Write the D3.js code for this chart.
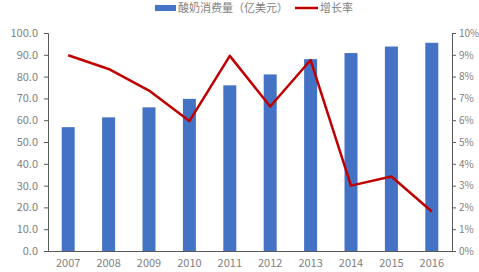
<!DOCTYPE html>
<html>
<head>
<meta charset="utf-8">
<script src="https://cdn.jsdelivr.net/npm/d3@7"></script>
<style>
  body { margin: 0; background: #fff; }
  text { font-family: "Liberation Sans Narrow", "Noto Sans CJK SC", sans-serif; fill: #7f7f7f; }
</style>
</head>
<body>
<div id="chart"></div>
<script>
// chart data
const years = ["2007", "2008", "2009", "2010", "2011", "2012", "2013", "2014", "2015", "2016"];
const consumption = [56.8, 61.3, 65.9, 69.8, 76.0, 81.0, 88.0, 90.8, 93.8, 95.5];
const growth = [8.98, 8.35, 7.36, 5.96, 8.95, 6.63, 8.76, 3.0, 3.42, 1.81];
const leftTicks = [0, 10, 20, 30, 40, 50, 60, 70, 80, 90, 100];
const rightTicks = [0, 1, 2, 3, 4, 5, 6, 7, 8, 9, 10];
const barName = "酸奶消费量（亿美元）";
const lineName = "增长率";

let width = 479, height = 272;
let margin = { top: 33, right: 27, bottom: 21, left: 48 };

let svg = d3.select("#chart").append("svg")
    .attr("width", width)
    .attr("height", height);

let x = d3.scaleBand()
    .domain(years)
    .range([margin.left, width - margin.right]);

let yLeft = d3.scaleLinear()
    .domain([0, 100])
    .range([height - margin.bottom, margin.top]);

let yRight = d3.scaleLinear()
    .domain([0, 10])
    .range([height - margin.bottom, margin.top]);

// bars
const barW = 13;
svg.selectAll("rect.bar")
    .data(consumption)
    .enter()
    .append("rect")
    .attr("class", "bar")
    .attr("x", (d, i) => x(years[i]) + x.bandwidth() / 2 - barW / 2)
    .attr("y", d => yLeft(d))
    .attr("width", barW)
    .attr("height", d => yLeft(0) - yLeft(d))
    .attr("fill", "#4472C4");

// left axis
let gl = svg.append("g")
    .attr("transform", `translate(${margin.left},0)`)
    .call(d3.axisLeft(yLeft).tickValues(leftTicks).tickFormat(d3.format(".1f")).tickSize(4).tickPadding(6));
gl.select(".domain").attr("stroke", "#595959");
gl.selectAll(".tick line").attr("stroke", "#595959");
gl.selectAll("text").style("font-size", "11px").attr("fill", "#808080");

// right axis
let gr = svg.append("g")
    .attr("transform", `translate(${width - margin.right},0)`)
    .call(d3.axisRight(yRight).tickValues(rightTicks).tickFormat(d => d + "%").tickSize(4).tickPadding(3));
gr.select(".domain").attr("stroke", "#595959");
gr.selectAll(".tick line").attr("stroke", "#595959");
gr.selectAll("text").style("font-size", "10px").attr("fill", "#808080");

// bottom axis
let gb = svg.append("g")
    .attr("transform", `translate(0,${height - margin.bottom})`)
    .call(d3.axisBottom(x).tickSize(0).tickPadding(8));
gb.select(".domain").attr("stroke", "#595959");
gb.selectAll("text").style("font-size", "11px").attr("fill", "#808080");

// growth line
let line = d3.line()
    .x((d, i) => x(years[i]) + x.bandwidth() / 2)
    .y(d => yRight(d));

svg.append("path")
    .datum(growth)
    .attr("d", line)
    .attr("fill", "none")
    .attr("stroke", "#C00000")
    .attr("stroke-width", 2.5)
    .attr("stroke-linejoin", "round");

// legend
let legend = svg.append("g");
legend.append("rect")
    .attr("x", 155).attr("y", 5)
    .attr("width", 21).attr("height", 6)
    .attr("fill", "#4472C4");
legend.append("text")
    .attr("x", 178).attr("y", 12)
    .style("font-size", "11px")
    .style("font-family", "'Noto Sans CJK SC', sans-serif")
    .attr("fill", "#595959")
    .text(barName);
legend.append("line")
    .attr("x1", 295).attr("x2", 318)
    .attr("y1", 8).attr("y2", 8)
    .attr("stroke", "#C00000")
    .attr("stroke-width", 2.5);
legend.append("text")
    .attr("x", 320).attr("y", 12)
    .style("font-size", "11px")
    .style("font-family", "'Noto Sans CJK SC', sans-serif")
    .attr("fill", "#595959")
    .text(lineName);
</script>
</body>
</html>
